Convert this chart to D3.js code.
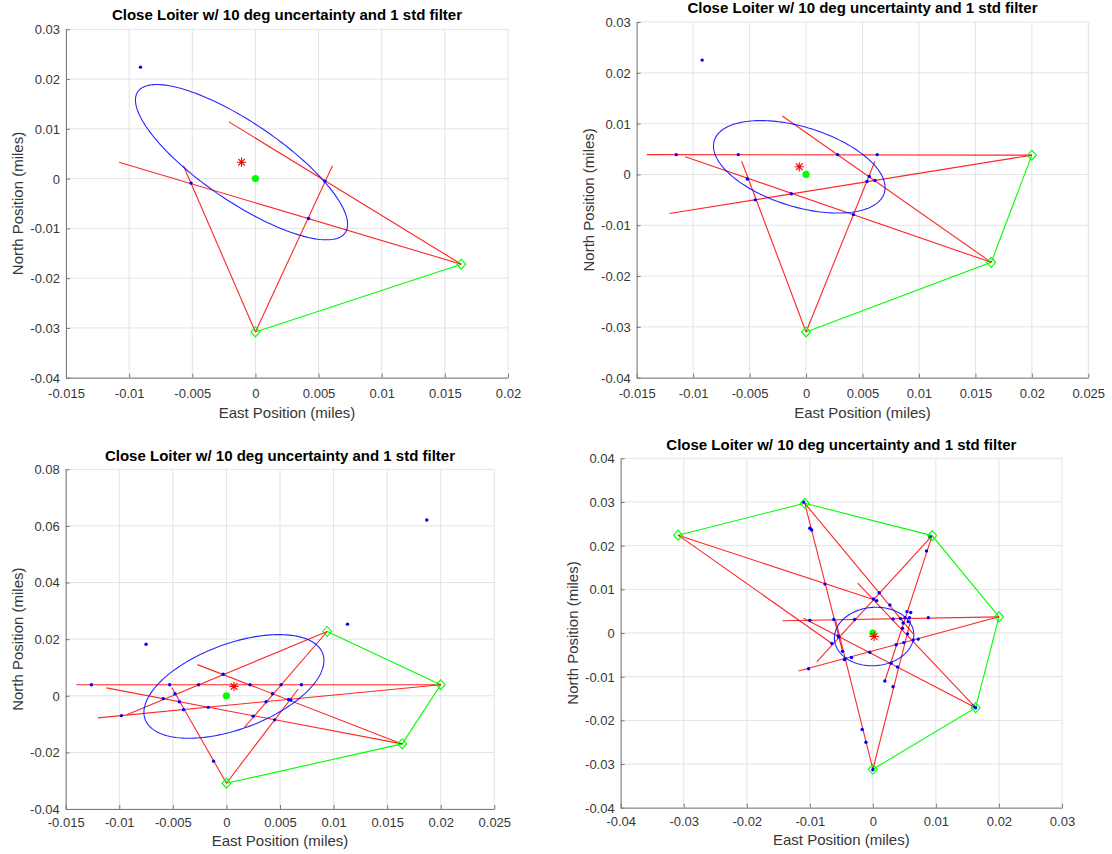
<!DOCTYPE html>
<html>
<head>
<meta charset="utf-8">
<script src="https://cdn.jsdelivr.net/npm/d3@7"></script>
<style>
  html, body { margin: 0; padding: 0; background: #ffffff; }
  svg { display: block; font-family: "Liberation Sans", Arial, Helvetica, sans-serif; }
</style>
</head>
<body>
<svg id="fig" width="1112" height="854"></svg>
<script>
// ---------------------------------------------------------------
// Shared text
// ---------------------------------------------------------------
const titleText = "Close Loiter w/ 10 deg uncertainty and 1 std filter";
const xLabelText = "East Position (miles)";
const yLabelText = "North Position (miles)";

// True emitter position (east, north) in miles
const truthPos = [0, 0];

// ---------------------------------------------------------------
// Run 1: two collection points
// ---------------------------------------------------------------
const sensors1 = [[0, -0.0308], [0.0163, -0.0172]];
// bearing line ends: [sensor index, east, north]
const bearings1 = [
  [0, -0.0057, 0.0026], [0, 0.0061, 0.0026],
  [1, -0.0108, 0.0033], [1, -0.0021, 0.0114]
];
const fixes1 = [[-0.0091, 0.0224], [-0.0051, -0.0009], [0.0055, -0.0005], [0.0042, -0.0080]];
const estimate1 = [-0.0011, 0.0033];
// 1-sigma spread: [sigma east, sigma north, correlation]
const spread1 = [0.0084, 0.0156, -0.80];
const xTicks1 = [-0.015, -0.01, -0.005, 0, 0.005, 0.01, 0.015, 0.02];
const yTicks1 = [-0.04, -0.03, -0.02, -0.01, 0, 0.01, 0.02, 0.03];

// ---------------------------------------------------------------
// Run 2: three collection points
// ---------------------------------------------------------------
const sensors2 = [[0, -0.0310], [0.0164, -0.0173], [0.0200, 0.0038]];
const bearings2 = [
  [0, -0.0057, 0.0026], [0, 0.0061, 0.0026],
  [1, -0.0107, 0.0035], [1, -0.0021, 0.0115],
  [2, -0.0141, 0.0039], [2, -0.0121, -0.0077]
];
const fixes2 = [
  [-0.0092, 0.0225], [-0.0115, 0.0039], [-0.0060, 0.0039], [0.0028, 0.0039], [0.0063, 0.0039],
  [-0.0052, -0.0009], [-0.0045, -0.0050], [-0.0013, -0.0038], [0.0056, -0.0004],
  [0.0054, -0.0014], [0.0061, -0.0012], [0.0042, -0.0079]
];
const estimate2 = [-0.0006, 0.0015];
const spread2 = [0.0076, 0.0091, -0.45];
const xTicks2 = [-0.015, -0.01, -0.005, 0, 0.005, 0.01, 0.015, 0.02, 0.025];
const yTicks2 = [-0.04, -0.03, -0.02, -0.01, 0, 0.01, 0.02, 0.03];

// ---------------------------------------------------------------
// Run 3: four collection points
// ---------------------------------------------------------------
const sensors3 = [[0, -0.0309], [0.0164, -0.0170], [0.0200, 0.0039], [0.0094, 0.0227]];
const bearings3 = [
  [0, -0.0051, 0.0029], [0, 0.0067, 0.0024],
  [1, -0.0112, 0.0028], [1, -0.0027, 0.0110],
  [2, -0.0140, 0.0039], [2, -0.0120, -0.0078],
  [3, -0.0093, -0.0067], [3, 0.0017, -0.0111]
];
const fixes3 = [
  [0.0187, 0.0621], [0.0113, 0.0253], [-0.0075, 0.0182],
  [-0.0126, 0.0039], [-0.0053, 0.0039], [-0.0026, 0.0039], [0.0022, 0.0039], [0.0051, 0.0039], [0.0070, 0.0039],
  [-0.0003, 0.0076], [-0.0048, 0.0007], [-0.0059, -0.0010], [-0.0044, -0.0021], [-0.0040, -0.0049],
  [-0.0017, -0.0041], [-0.0098, -0.0070], [0.0043, 0.0007], [0.0037, -0.0021], [0.0025, -0.0072],
  [0.0045, -0.0085], [0.0058, -0.0013], [0.0060, -0.0015], [-0.0012, -0.0231]
];
const estimate3 = [0.0007, 0.0033];
const spread3 = [0.0084, 0.0183, 0.50];
const xTicks3 = [-0.015, -0.01, -0.005, 0, 0.005, 0.01, 0.015, 0.02, 0.025];
const yTicks3 = [-0.04, -0.02, 0, 0.02, 0.04, 0.06, 0.08];

// ---------------------------------------------------------------
// Run 4: six collection points
// ---------------------------------------------------------------
const sensors4 = [
  [0, -0.0312], [0.0163, -0.0171], [0.0200, 0.0037],
  [0.0094, 0.0223], [-0.0108, 0.0297], [-0.0309, 0.0224]
];
const bearings4 = [
  [0, -0.0059, 0.0029], [0, 0.0060, 0.0029],
  [1, -0.0110, 0.0034], [1, -0.0024, 0.0114],
  [2, -0.0143, 0.0028], [2, -0.0118, -0.0087],
  [3, -0.0089, -0.0066], [3, 0.0019, -0.0110],
  [4, 0.0064, -0.0002], [4, -0.0048, -0.0043],
  [5, 0.0002, 0.0076], [5, -0.0065, -0.0024]
];
const fixes4 = [
  [-0.0110, 0.0300], [-0.0100, 0.0240], [-0.0097, 0.0236], [-0.0076, 0.0112],
  [0.0001, 0.0078], [0.0010, 0.0092], [0.0006, 0.0074], [0.0027, 0.0064],
  [0.0090, 0.0220], [0.0085, 0.0188],
  [-0.0100, 0.0029], [-0.0062, 0.0031], [-0.0029, 0.0031], [0.0032, 0.0032],
  [0.0044, 0.0033], [0.0051, 0.0035], [0.0054, 0.0049], [0.0060, 0.0047],
  [0.0048, 0.0023], [0.0056, 0.0026], [0.0047, 0.0011], [0.0055, -0.0002],
  [0.0088, 0.0035], [0.0058, 0.0035],
  [-0.0055, -0.0007], [-0.0054, -0.0009], [-0.0065, -0.0024], [-0.0048, -0.0042],
  [-0.0044, -0.0059], [-0.0045, -0.0061], [-0.0034, -0.0056], [-0.0005, -0.0044],
  [0.0037, -0.0027], [0.0049, -0.0022], [0.0064, -0.0016], [0.0072, -0.0014],
  [0.0029, -0.0069], [0.0039, -0.0078], [0.0019, -0.0110], [0.0032, -0.0123],
  [-0.0102, -0.0082], [-0.0017, -0.0221], [-0.0011, -0.0250], [0.0000, -0.0313],
  [0.0159, -0.0167], [0.0163, -0.0171]
];
const estimate4 = [0.0002, -0.0008];
const spread4 = [0.0063, 0.0067, 0.05];
const xTicks4 = [-0.04, -0.03, -0.02, -0.01, 0, 0.01, 0.02, 0.03];
const yTicks4 = [-0.04, -0.03, -0.02, -0.01, 0, 0.01, 0.02, 0.03, 0.04];

// ---------------------------------------------------------------
// Panel layout (pixels)
// ---------------------------------------------------------------
const panels = [
  { frame: { left: 66, right: 508, top: 29.3, bottom: 377.7 }, titleY: 20, tickDy: 20.5, labelDy: 40,
    xDomain: [-0.015, 0.02], yDomain: [-0.04, 0.03], xTicks: xTicks1, yTicks: yTicks1,
    sensors: sensors1, bearings: bearings1, fixes: fixes1, estimate: estimate1, spread: spread1 },
  { frame: { left: 636.7, right: 1088.3, top: 22, bottom: 377.7 }, titleY: 12.5, tickDy: 20.5, labelDy: 40,
    xDomain: [-0.015, 0.025], yDomain: [-0.04, 0.03], xTicks: xTicks2, yTicks: yTicks2,
    sensors: sensors2, bearings: bearings2, fixes: fixes2, estimate: estimate2, spread: spread2 },
  { frame: { left: 65.7, right: 494.3, top: 469.3, bottom: 809 }, titleY: 461, tickDy: 18, labelDy: 37,
    xDomain: [-0.015, 0.025], yDomain: [-0.04, 0.08], xTicks: xTicks3, yTicks: yTicks3,
    sensors: sensors3, bearings: bearings3, fixes: fixes3, estimate: estimate3, spread: spread3 },
  { frame: { left: 620.7, right: 1062, top: 458.3, bottom: 807.7 }, titleY: 449.5, tickDy: 18, labelDy: 37,
    xDomain: [-0.04, 0.03], yDomain: [-0.04, 0.04], xTicks: xTicks4, yTicks: yTicks4,
    sensors: sensors4, bearings: bearings4, fixes: fixes4, estimate: estimate4, spread: spread4 }
];

const COLORS = { grid: "#e3e3e3", axis: "#7a7a7a", tickText: "#363636", red: "#ff0000", green: "#00ff00", blue: "#0000ff" };

const fmt = v => {
  const s = (+v.toFixed(4)).toString();
  return s === "-0" ? "0" : s;
};

const svg = d3.select("#fig");

panels.forEach((p, i) => {
  const f = p.frame;
  const x = d3.scaleLinear().domain(p.xDomain).range([f.left, f.right]);
  const y = d3.scaleLinear().domain(p.yDomain).range([f.bottom, f.top]);
  const g = svg.append("g").attr("class", "panel panel-" + (i + 1));

  // grid
  const grid = g.append("g").attr("class", "grid");
  grid.selectAll("line.gx").data(p.xTicks).join("line")
    .attr("x1", d => x(d)).attr("x2", d => x(d))
    .attr("y1", f.top).attr("y2", f.bottom)
    .attr("stroke", COLORS.grid).attr("stroke-width", 1);
  grid.selectAll("line.gy").data(p.yTicks).join("line")
    .attr("y1", d => y(d)).attr("y2", d => y(d))
    .attr("x1", f.left).attr("x2", f.right)
    .attr("stroke", COLORS.grid).attr("stroke-width", 1);

  // axes (ticks point inward)
  const xAxis = d3.axisBottom(x).tickValues(p.xTicks).tickFormat(fmt).tickSizeInner(-4).tickSizeOuter(0).tickPadding(0);
  const yAxis = d3.axisLeft(y).tickValues(p.yTicks).tickFormat(fmt).tickSizeInner(-4).tickSizeOuter(0).tickPadding(0);

  const gx = g.append("g").attr("transform", `translate(0,${f.bottom})`).call(xAxis);
  const gy = g.append("g").attr("transform", `translate(${f.left},0)`).call(yAxis);
  [gx, gy].forEach(a => {
    a.select(".domain").attr("stroke", COLORS.axis).attr("stroke-width", 1);
    a.selectAll(".tick line").attr("stroke", COLORS.axis).attr("stroke-width", 1);
    a.selectAll(".tick text").attr("fill", COLORS.tickText).attr("font-size", 13)
      .attr("font-family", '"Liberation Sans", Arial, sans-serif');
  });
  gx.selectAll(".tick text").attr("y", p.tickDy).attr("dy", null);
  gy.selectAll(".tick text").attr("x", -6).attr("dy", "0.34em");

  // clip to axes box
  const clipId = "clip" + i;
  g.append("clipPath").attr("id", clipId).append("rect")
    .attr("x", f.left).attr("y", f.top).attr("width", f.right - f.left).attr("height", f.bottom - f.top);
  const plot = g.append("g").attr("clip-path", `url(#${clipId})`);

  // collection path
  plot.append("path")
    .attr("d", d3.line().x(d => x(d[0])).y(d => y(d[1]))(p.sensors))
    .attr("fill", "none").attr("stroke", COLORS.green).attr("stroke-width", 1.1);

  // bearing lines
  plot.selectAll("line.bearing").data(p.bearings).join("line")
    .attr("class", "bearing")
    .attr("x1", d => x(p.sensors[d[0]][0])).attr("y1", d => y(p.sensors[d[0]][1]))
    .attr("x2", d => x(d[1])).attr("y2", d => y(d[2]))
    .attr("stroke", COLORS.red).attr("stroke-width", 1.1).attr("stroke-opacity", 0.85);

  // 1-sigma ellipse around the estimate
  const [sx, sy, rho] = p.spread;
  const ts = d3.range(0, 2 * Math.PI + 0.001, Math.PI / 90);
  const ell = ts.map(t => [
    p.estimate[0] + sx * Math.cos(t),
    p.estimate[1] + sy * (rho * Math.cos(t) + Math.sqrt(1 - rho * rho) * Math.sin(t))
  ]);
  plot.append("path")
    .attr("d", d3.line().x(d => x(d[0])).y(d => y(d[1]))(ell))
    .attr("fill", "none").attr("stroke", COLORS.blue).attr("stroke-width", 1.1).attr("stroke-opacity", 0.85);

  // bearing intersections
  plot.selectAll("circle.fix").data(p.fixes).join("circle")
    .attr("class", "fix")
    .attr("cx", d => x(d[0])).attr("cy", d => y(d[1])).attr("r", 1.7)
    .attr("fill", COLORS.blue);

  // collection points (diamonds)
  plot.selectAll("path.sensor").data(p.sensors).join("path")
    .attr("class", "sensor")
    .attr("transform", d => `translate(${x(d[0])},${y(d[1])})`)
    .attr("d", "M0,-5L4.5,0L0,5L-4.5,0Z")
    .attr("fill", "none").attr("stroke", COLORS.green).attr("stroke-width", 1.1);

  // true position
  plot.append("circle")
    .attr("cx", x(truthPos[0])).attr("cy", y(truthPos[1])).attr("r", 3.6)
    .attr("fill", COLORS.green);

  // estimate (asterisk)
  const s = 4.6, k = s * 0.72;
  plot.append("path")
    .attr("transform", `translate(${x(p.estimate[0])},${y(p.estimate[1])})`)
    .attr("d", `M${-s},0L${s},0M0,${-s}L0,${s}M${-k},${-k}L${k},${k}M${-k},${k}L${k},${-k}`)
    .attr("stroke", COLORS.red).attr("stroke-width", 1.1).attr("fill", "none");

  // title and axis labels
  const cx = (f.left + f.right) / 2, cy = (f.top + f.bottom) / 2;
  g.append("text").attr("x", cx).attr("y", p.titleY).attr("text-anchor", "middle")
    .attr("font-size", 15).attr("font-weight", "bold").attr("fill", "#000").text(titleText);
  g.append("text").attr("x", cx).attr("y", f.bottom + p.labelDy).attr("text-anchor", "middle")
    .attr("font-size", 15).attr("fill", COLORS.tickText).text(xLabelText);
  g.append("text").attr("transform", `translate(${f.left - 43},${cy}) rotate(-90)`)
    .attr("text-anchor", "middle").attr("font-size", 15).attr("fill", COLORS.tickText).text(yLabelText);
});
</script>
</body>
</html>
